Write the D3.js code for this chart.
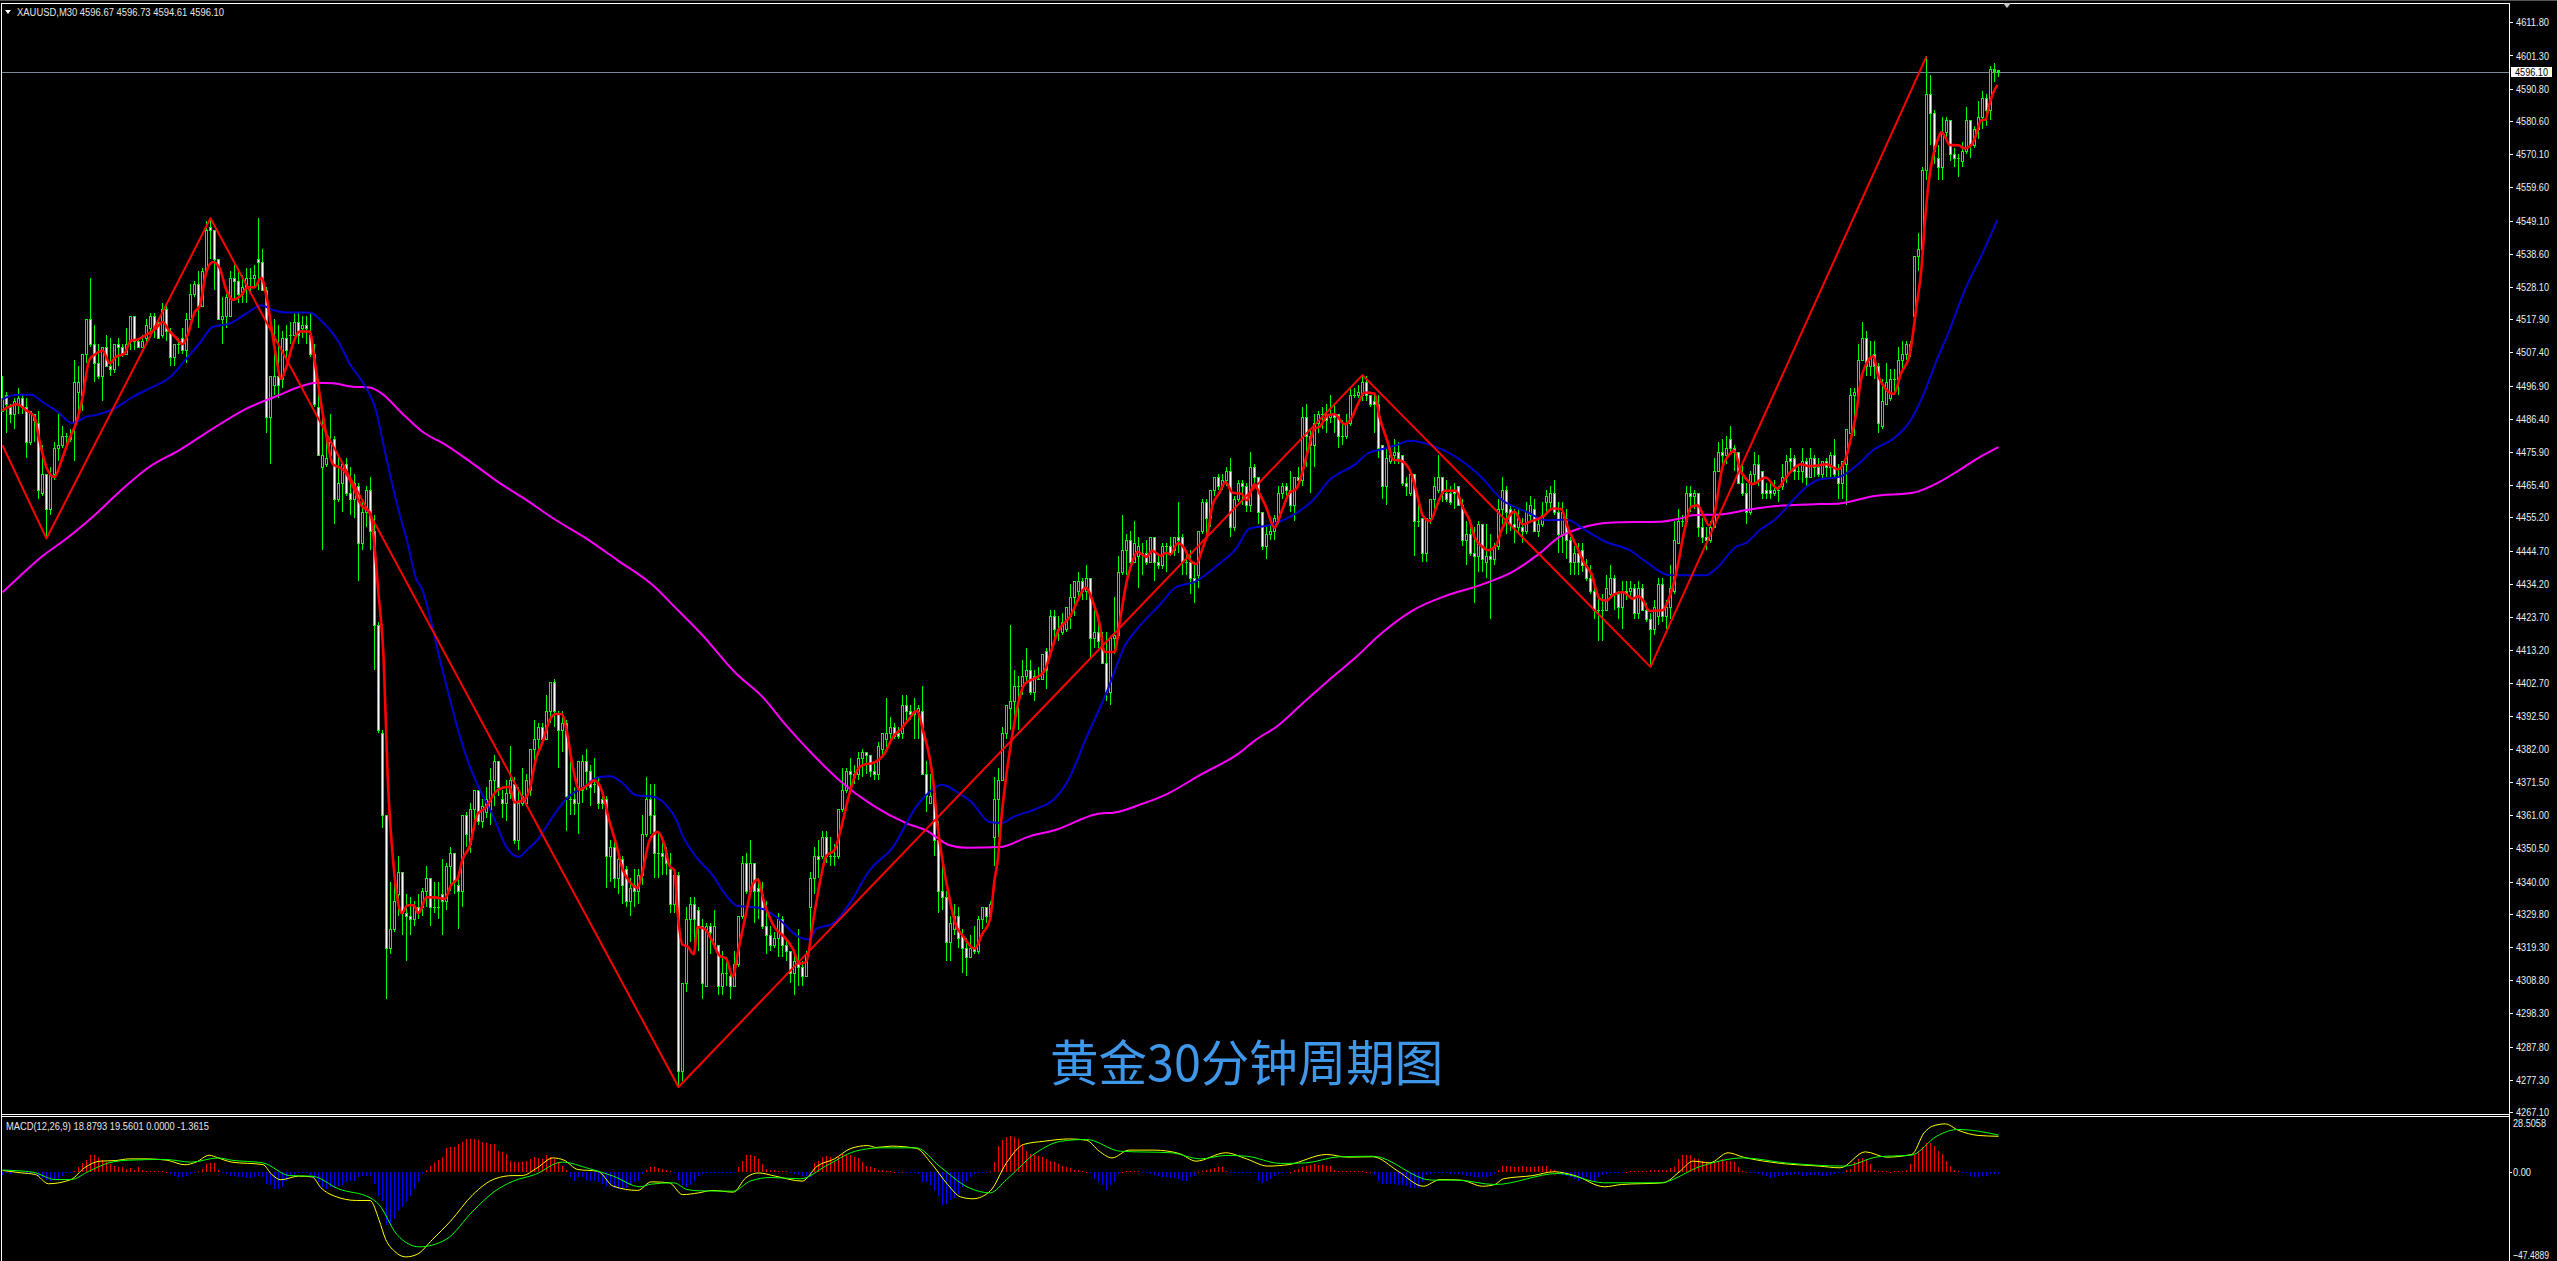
<!DOCTYPE html>
<html>
<head>
<meta charset="utf-8">
<title>XAUUSD M30</title>
<script src="https://cdn.jsdelivr.net/npm/d3@7"></script>
<style>
html, body { margin: 0; padding: 0; background: #000; overflow: hidden; }
svg { display: block; }
text { font-family: "Liberation Sans", sans-serif; }
</style>
</head>
<body>
<div id="chart"></div>
<script>
// velas de 30 minutos, barra 0 a barra 499
const opens = [
4489,4494,4490,4488,4491,4493,4490,4479,4488,4485,
4463,4469,4458,4469,4477,4478,4481,4481,4485,4495,
4494,4507,4518,4510,4504,4500,4509,4503,4502,4510,
4509,4507,4511,4519,4511,4509,4512,4515,4519,4517,
4513,4521,4514,4506,4510,4512,4508,4518,4526,4529,
4522,4533,4547,4546,4537,4518,4519,4519,4531,4530,
4526,4528,4531,4531,4537,4536,4527,4487,4497,4500,
4499,4512,4513,4513,4517,4515,4516,4513,4507,4490,
4471,4472,4475,4480,4461,4466,4472,4463,4461,4465,
4447,4457,4464,4451,4421,4387,4361,4319,4325,4336,
4343,4330,4329,4328,4332,4332,4337,4341,4332,4332,
4336,4334,4345,4349,4339,4337,4361,4352,4363,4369,
4359,4362,4363,4372,4378,4366,4365,4368,4371,4353,
4365,4365,4369,4382,4385,4389,4385,4394,4403,4393,
4388,4390,4366,4366,4365,4369,4378,4375,4371,4371,
4366,4366,4348,4351,4341,4347,4344,4334,4339,4337,
4342,4355,4366,4361,4349,4349,4349,4344,4333,4342,
4280,4308,4328,4333,4331,4326,4307,4326,4320,4320,
4307,4311,4310,4307,4314,4329,4346,4337,4346,4338,
4336,4326,4323,4320,4322,4328,4320,4318,4311,4315,
4313,4310,4332,4341,4348,4348,4354,4348,4348,4348,
4363,4369,4375,4374,4374,4379,4381,4380,4375,4374,
4382,4385,4387,4389,4387,4387,4396,4394,4393,4394,
4394,4374,4365,4368,4353,4337,4335,4321,4325,4329,
4323,4319,4316,4319,4318,4328,4332,4329,4354,4366,
4372,4387,4395,4397,4402,4402,4405,4407,4400,4404,
4404,4413,4413,4424,4420,4419,4420,4424,4430,4432,
4435,4432,4436,4417,4419,4415,4409,4400,4417,4418,
4438,4445,4448,4441,4443,4444,4444,4441,4449,4441,
4440,4446,4446,4445,4449,4449,4441,4441,4436,4437,
4451,4460,4455,4464,4468,4465,4467,4470,4452,4461,
4466,4465,4459,4471,4468,4457,4446,4450,4451,4454,
4463,4465,4464,4459,4468,4467,4487,4481,4478,4485,
4488,4488,4487,4488,4488,4481,4481,4485,4494,4494,
4494,4498,4494,4492,4491,4478,4465,4473,4475,4476,
4475,4466,4463,4469,4454,4455,4444,4455,4461,4464,
4468,4463,4463,4464,4465,4459,4448,4450,4444,4443,
4453,4441,4443,4442,4446,4458,4464,4458,4453,4452,
4452,4451,4456,4458,4451,4453,4460,4460,4463,4457,
4450,4455,4448,4441,4444,4445,4440,4436,4432,4426,
4426,4426,4431,4436,4431,4427,4432,4432,4433,4425,
4433,4426,4423,4420,4424,4434,4424,4427,4432,4447,
4454,4454,4463,4462,4463,4452,4449,4448,4452,4470,
4476,4475,4480,4477,4476,4466,4463,4457,4469,4472,
4470,4464,4464,4463,4464,4465,4468,4474,4474,4470,
4470,4473,4468,4474,4471,4469,4473,4471,4475,4468,
4466,4472,4482,4494,4494,4505,4512,4503,4507,4503,
4484,4491,4493,4499,4499,4505,4507,4510,4519,4538,
4540,4565,4589,4583,4569,4566,4577,4581,4570,4569,
4568,4571,4581,4573,4578,4582,4588,4584,4597,4596.67];

const highs = [
4500,4495,4491,4493,4496,4494,4493,4489,4488,4489,
4478,4469,4471,4479,4488,4484,4482,4483,4505,4503,
4507,4518,4531,4516,4510,4509,4513,4512,4510,4512,
4510,4515,4519,4519,4512,4513,4518,4520,4520,4518,
4523,4523,4515,4510,4512,4515,4520,4529,4530,4533,
4534,4549,4550,4546,4537,4525,4526,4533,4535,4534,
4532,4534,4534,4535,4550,4540,4528,4500,4518,4516,
4514,4516,4517,4520,4520,4519,4519,4520,4510,4499,
4489,4482,4488,4481,4475,4472,4474,4471,4469,4466,
4460,4465,4468,4456,4422,4388,4361,4340,4343,4348,
4343,4336,4335,4334,4336,4338,4345,4341,4340,4340,
4347,4346,4351,4349,4343,4361,4362,4365,4369,4369,
4366,4370,4376,4380,4378,4369,4372,4383,4373,4370,
4376,4374,4382,4391,4390,4390,4399,4403,4404,4394,
4394,4391,4378,4370,4378,4380,4382,4377,4379,4373,
4369,4367,4353,4354,4349,4348,4345,4341,4344,4344,
4361,4373,4371,4371,4356,4353,4351,4349,4343,4343,
4308,4332,4335,4335,4332,4328,4327,4327,4331,4320,
4318,4316,4312,4318,4329,4348,4349,4353,4346,4341,
4340,4334,4326,4324,4330,4329,4322,4318,4318,4325,
4315,4318,4343,4351,4353,4356,4356,4354,4352,4363,
4376,4376,4379,4377,4381,4382,4381,4380,4378,4384,
4387,4398,4392,4390,4389,4399,4399,4396,4398,4396,
4402,4378,4374,4370,4359,4347,4337,4329,4333,4332,
4325,4322,4323,4326,4329,4332,4332,4334,4373,4376,
4389,4396,4421,4407,4405,4410,4414,4410,4407,4408,
4412,4414,4426,4426,4424,4425,4427,4434,4435,4438,
4436,4440,4436,4426,4422,4419,4419,4417,4430,4443,
4456,4450,4451,4454,4449,4447,4448,4449,4449,4444,
4447,4447,4449,4449,4460,4450,4444,4445,4441,4451,
4461,4461,4464,4468,4469,4469,4471,4474,4462,4467,
4467,4466,4476,4472,4468,4457,4452,4453,4456,4465,
4466,4466,4470,4468,4471,4490,4491,4483,4488,4489,
4490,4491,4494,4491,4488,4486,4488,4496,4496,4497,
4500,4500,4494,4494,4494,4478,4477,4477,4480,4479,
4475,4468,4470,4469,4460,4455,4455,4461,4468,4475,
4468,4467,4465,4466,4465,4461,4454,4453,4452,4454,
4453,4453,4450,4447,4461,4468,4465,4459,4458,4458,
4455,4460,4462,4461,4455,4460,4464,4465,4467,4460,
4460,4458,4449,4446,4447,4447,4442,4440,4435,4430,
4431,4437,4440,4437,4432,4435,4435,4435,4434,4435,
4434,4428,4425,4429,4436,4436,4429,4440,4454,4458,
4456,4465,4465,4464,4463,4455,4452,4454,4474,4479,
4480,4481,4484,4478,4476,4472,4466,4470,4476,4475,
4470,4466,4466,4467,4465,4472,4475,4477,4475,4472,
4477,4474,4477,4475,4474,4473,4474,4476,4480,4472,
4473,4483,4496,4496,4510,4517,4514,4511,4511,4504,
4499,4504,4502,4502,4509,4511,4511,4511,4538,4545,
4566,4601,4595,4584,4573,4582,4582,4581,4572,4570,
4574,4585,4581,4579,4587,4590,4589,4598,4599,4596.73];

const lows = [
4489,4482,4485,4483,4488,4488,4474,4478,4479,4461,
4462,4449,4456,4467,4473,4477,4478,4479,4473,4488,
4489,4504,4509,4498,4499,4492,4503,4500,4501,4503,
4506,4507,4508,4508,4509,4509,4510,4512,4512,4512,
4512,4511,4503,4503,4507,4507,4504,4518,4525,4515,
4522,4533,4537,4527,4518,4510,4515,4519,4524,4523,
4523,4523,4526,4528,4527,4527,4482,4472,4494,4493,
4496,4505,4510,4513,4510,4512,4510,4506,4490,4475,
4445,4471,4475,4453,4460,4457,4462,4456,4455,4435,
4445,4452,4445,4407,4387,4357,4303,4317,4324,4329,
4323,4315,4323,4326,4328,4329,4332,4326,4330,4328,
4323,4331,4337,4336,4325,4332,4351,4349,4358,4358,
4357,4360,4358,4364,4367,4360,4359,4366,4352,4350,
4364,4364,4367,4378,4380,4384,4385,4390,4389,4376,
4381,4356,4361,4361,4355,4365,4369,4364,4368,4363,
4363,4338,4340,4338,4336,4333,4332,4329,4332,4333,
4339,4354,4355,4341,4341,4342,4342,4330,4330,4275,
4277,4305,4321,4317,4318,4303,4307,4317,4319,4304,
4304,4307,4303,4307,4313,4328,4336,4336,4327,4328,
4325,4317,4318,4319,4316,4316,4315,4308,4304,4307,
4307,4310,4324,4336,4341,4347,4346,4345,4345,4347,
4362,4368,4368,4371,4372,4373,4374,4373,4372,4372,
4379,4382,4384,4385,4385,4385,4390,4391,4385,4385,
4374,4362,4365,4348,4330,4331,4315,4315,4323,4319,
4311,4310,4316,4317,4317,4325,4327,4328,4345,4354,
4372,4385,4388,4391,4388,4399,4403,4399,4397,4404,
4404,4401,4412,4416,4416,4418,4419,4420,4424,4429,
4429,4429,4411,4414,4414,4409,4397,4396,4412,4417,
4437,4437,4440,4441,4433,4437,4440,4441,4435,4439,
4439,4438,4443,4443,4444,4437,4437,4431,4428,4433,
4450,4449,4452,4462,4464,4464,4465,4449,4451,4460,
4459,4457,4457,4465,4453,4445,4442,4448,4448,4453,
4461,4460,4457,4454,4465,4465,4471,4463,4471,4482,
4483,4482,4485,4482,4477,4478,4480,4484,4493,4493,
4492,4492,4490,4482,4474,4461,4459,4472,4472,4472,
4465,4462,4462,4443,4452,4441,4441,4453,4458,4463,
4460,4460,4459,4458,4459,4446,4440,4443,4428,4438,
4438,4436,4423,4440,4445,4453,4450,4451,4447,4450,
4447,4450,4454,4451,4449,4452,4456,4458,4456,4444,
4444,4442,4437,4437,4437,4438,4435,4431,4423,4416,
4416,4426,4430,4426,4423,4420,4429,4430,4423,4423,
4426,4422,4408,4418,4421,4422,4420,4423,4431,4447,
4452,4453,4457,4458,4449,4447,4445,4447,4452,4470,
4472,4472,4476,4470,4466,4462,4453,4456,4466,4465,
4461,4461,4461,4462,4460,4464,4466,4470,4467,4467,
4466,4465,4468,4468,4468,4467,4468,4468,4468,4461,
4461,4459,4482,4481,4494,4505,4500,4500,4499,4482,
4483,4491,4492,4494,4494,4502,4505,4506,4515,4533,
4537,4562,4573,4567,4562,4562,4574,4568,4566,4563,
4566,4570,4569,4572,4575,4578,4579,4581,4593,4594.61];

const closes = [
4493,4491,4488,4492,4493,4490,4479,4489,4486,4464,
4469,4458,4469,4477,4478,4481,4481,4480,4498,4498,
4507,4518,4510,4504,4500,4509,4503,4502,4510,4509,
4507,4510,4519,4511,4509,4511,4516,4519,4515,4512,
4521,4514,4506,4510,4510,4508,4518,4526,4529,4522,
4533,4546,4546,4537,4518,4519,4525,4531,4530,4526,
4528,4531,4531,4532,4536,4527,4487,4500,4500,4497,
4512,4508,4513,4517,4513,4516,4515,4507,4491,4475,
4475,4474,4479,4461,4466,4472,4463,4461,4466,4447,
4457,4464,4451,4421,4388,4361,4319,4325,4334,4343,
4330,4329,4328,4332,4330,4337,4341,4332,4332,4332,
4334,4345,4349,4340,4337,4361,4355,4363,4369,4359,
4364,4366,4372,4378,4370,4365,4368,4372,4353,4365,
4367,4372,4382,4385,4389,4385,4394,4403,4394,4388,
4390,4367,4366,4365,4378,4378,4375,4370,4371,4365,
4365,4348,4351,4341,4347,4339,4334,4338,4337,4342,
4355,4366,4361,4349,4349,4348,4346,4333,4342,4280,
4308,4328,4333,4328,4326,4308,4326,4324,4326,4307,
4311,4311,4307,4314,4329,4346,4337,4346,4337,4337,
4326,4323,4320,4322,4328,4320,4318,4311,4315,4313,
4310,4317,4341,4348,4347,4354,4348,4348,4348,4363,
4369,4375,4374,4373,4379,4381,4380,4375,4374,4383,
4387,4387,4389,4386,4386,4396,4394,4393,4394,4395,
4374,4367,4367,4353,4337,4335,4321,4327,4329,4322,
4319,4316,4319,4318,4328,4332,4329,4333,4366,4372,
4387,4396,4397,4402,4402,4405,4407,4400,4405,4404,
4412,4407,4424,4420,4420,4422,4427,4430,4435,4435,
4432,4436,4417,4419,4416,4409,4400,4417,4418,4438,
4445,4448,4441,4447,4446,4444,4441,4449,4441,4440,
4446,4446,4444,4449,4448,4441,4441,4436,4435,4451,
4460,4455,4464,4468,4465,4467,4470,4452,4461,4466,
4465,4459,4471,4468,4457,4446,4450,4451,4455,4463,
4465,4464,4459,4468,4467,4487,4481,4478,4485,4488,
4488,4486,4488,4487,4481,4481,4485,4494,4494,4495,
4498,4494,4491,4491,4477,4465,4474,4475,4476,4474,
4466,4465,4469,4454,4454,4444,4455,4461,4465,4468,
4463,4461,4460,4463,4459,4448,4450,4444,4443,4453,
4442,4443,4442,4446,4458,4464,4457,4453,4452,4455,
4451,4457,4459,4451,4453,4456,4462,4463,4457,4450,
4457,4448,4441,4444,4441,4440,4436,4432,4426,4426,
4426,4433,4436,4431,4427,4432,4431,4433,4425,4433,
4426,4423,4420,4427,4434,4424,4427,4433,4448,4454,
4454,4463,4462,4463,4452,4449,4448,4452,4470,4476,
4475,4477,4477,4476,4466,4463,4457,4469,4472,4467,
4463,4463,4463,4464,4464,4468,4473,4473,4470,4470,
4473,4468,4474,4471,4469,4473,4471,4475,4469,4466,
4473,4483,4494,4495,4505,4512,4503,4506,4503,4485,
4492,4498,4499,4499,4505,4507,4510,4508,4538,4540,
4565,4589,4583,4571,4566,4577,4581,4570,4569,4569,
4571,4581,4573,4578,4582,4588,4584,4597,4596.5,4596.1];

// media rapida (roja): barra y precio
const fastBars = [0,3.5,6,8,9,11,13,14.7,16.7,18.4,20,21.7,23.4,25,26.8,28.4,30.5,32,33.8,36,38.4,40,41.8,43.4,45,46.3,48,49.3,51,52.6,54.3,56,57.6,59.7,61.3,63,64.7,66,68,69.7,71,72.6,74.3,76.8,78,79.3,81,82.6,84.3,86,87.6,89.7,92,93,94,95.3,96.3,97.3,98,98.8,99.8,101.3,102.8,104,106,108,110.5,112.2,113.8,115,116.75,118.8,120.5,123.8,126.75,128,130.5,131.75,133.4,135,136.75,138.4,139.8,141,142.6,144.25,146.75,148,149.75,151.75,153.4,155,156.75,158.75,160,161.75,163.8,165.5,166.75,168,168.8,170,171.25,172.8,173.8,175.5,177.5,179.25,180.9,182.6,183.75,185.9,187.5,188.8,190.5,193,195.5,197.6,199.25,200.9,202.6,204.6,205.9,208,209.75,211.3,213.9,215.5,217.6,220.5,222.6,224.75,226.4,228.6,230.1,231.75,232.75,233.8,235,236.75,238.4,240,243,245,246.9,248,248.8,249.75,251,252.25,253.9,255.6,258.4,260.5,262.2,263.8,267,269,270.75,272.6,274.25,275.5,278,279.25,280.9,282.6,283.75,285.9,287.5,289.6,290.9,292,293.8,295.5,296.75,298.4,300,301.25,302.5,304.25,305.75,307.5,309.75,311.1,313,314.25,315.9,318,319.75,321.75,323.5,324.75,326.4,328,329.25,331.3,333,335.5,337.2,338.9,340.5,343,344.25,346.3,347.6,349.75,352.2,354,355,356.9,358.8,360.5,363.4,365,366.75,368,370,371.4,373.4,374.75,376,378,380.1,382.2,385.1,387.6,389.7,391.4,393.4,395.5,397.2,399.25,400.9,402.6,405,407.6,408.9,410.1,411.75,415,416.75,418.4,420.5,422.1,423.75,425.4,426.6,427.9,430,431.6,432.9,434.5,436.2,437.4,440.75,443.75,445.4,447,449.6,451.75,454.25,456.1,458.8,460.5,462,463.4,464.6,466.25,467.75,468.75,470,472.8,474.6,476.75,478.6,479.7,480.5,481.6,482.6,483.9,484.7,485.5,486.75,489,490.5,491.9,493.25,494.6,495.75,496.75,498,498.75];
const fastVals = [4489,4491,4489,4487,4481,4471,4468,4473,4480,4485,4493,4505,4507,4508,4504,4506,4507,4511,4511.5,4513,4515,4517,4514,4512,4510,4513,4520,4522,4533,4536,4534,4527,4524,4525.5,4528,4528,4531,4525,4509,4499,4503,4510,4514,4514,4505,4494,4481,4472,4471,4469,4465,4459,4456.5,4446,4431,4410,4373,4352,4342,4334,4330,4332.5,4332.5,4330,4335,4335,4334.5,4339,4341,4347,4351,4361.5,4363,4369,4370,4365,4366,4369,4379,4384,4391,4393,4393,4388,4376,4369,4371,4372,4369,4359,4352,4344,4340,4338,4343,4353,4355.7,4351.5,4345,4343.5,4330,4320,4319.5,4317,4325.6,4325,4321,4316.6,4315.6,4310,4317,4330,4339,4340.6,4333,4325.6,4322.4,4318.7,4314,4314.5,4327,4341.4,4348,4350,4357.3,4365.7,4375.7,4377,4377.5,4380.5,4385.7,4388.4,4391,4394,4387.9,4379.4,4371,4357.3,4346.7,4334.6,4326,4323,4318.8,4323.5,4328,4340.4,4346.7,4360.4,4374,4384.7,4396.3,4402.6,4404.5,4406.6,4413,4419,4424,4429.5,4433,4428.5,4421.6,4412.6,4412.6,4421.6,4434,4441.6,4444.3,4442.7,4444.6,4443,4444,4443.5,4447,4445.3,4442,4440.4,4445.3,4450,4459,4463,4466.4,4463,4462.7,4460.6,4465.7,4462.7,4458.5,4452,4457,4463,4464.3,4468.5,4476.5,4483.3,4483.8,4487.5,4487.8,4484.7,4486.5,4491.2,4494.7,4494.4,4487,4479,4473.5,4473,4469,4460.6,4455.9,4454,4459.6,4463.6,4463.6,4458.5,4454.3,4449,4445.9,4444.8,4446.4,4451.1,4454.3,4457,4453,4454,4455.4,4458,4457.8,4451.7,4446.4,4440.6,4437.4,4429.5,4428.8,4430.6,4431.6,4429.5,4430.2,4429,4425.6,4425.8,4430,4437.4,4451.1,4458.5,4459,4455.4,4452.7,4455.9,4471.2,4474.9,4476.3,4470,4467,4465.7,4467.8,4464.3,4467,4469.6,4472,4471.4,4471.7,4472,4470.4,4472.8,4479.6,4488,4498.6,4504.4,4506.2,4500.7,4497.3,4494.2,4500.7,4506.5,4522.9,4533.4,4547,4561.9,4569.3,4575,4577,4576,4573,4572.9,4571.9,4572.6,4575.6,4580.7,4581,4586,4590.4,4592];

// media azul
const blueBars = [0,3.4,7.2,10,13.8,17.4,21,23.8,27.6,32.6,36.75,42,46,49.25,52.6,56.75,61,64.7,67.6,71,76.75,80,84.25,86.75,90.5,93.4,95,97.2,99.25,101.3,103.4,104.8,106.9,109,111.5,114.4,116.9,119.4,122.75,126,129,131,134,137.75,141.5,145.25,149,152,154.7,158.4,162.6,166,168.5,170,173.4,177.6,180.9,183.75,189,194,198.4,201.75,203.4,207.6,211.75,216.75,222.6,228.4,231.75,234.8,239.25,242.2,246.75,249.75,252.6,258.4,263,266.4,270.75,275.9,280.9,283.4,290,292.9,298.4,304.25,308.4,311.75,316.75,322.6,327.6,331.75,338.4,341.25,345,348.4,351.75,357.6,363.4,369.25,375,380.9,385.9,390.9,395.9,400.9,406.75,410.9,416.75,425.9,428.4,433.4,435.9,439.25,443.4,447.6,450.9,454.25,459.25,464.25,467.6,473,476.75,480,483.9,485.9,490.9,495,498.75];
const blueVals = [4492.6,4494,4494,4491.7,4488.6,4485,4487,4487.7,4489.4,4493.3,4496,4499.7,4505.5,4510.2,4515.5,4516.5,4519.7,4522.3,4520.8,4520,4520,4517,4510.2,4503.9,4497,4489,4479.6,4467,4456.4,4446.9,4435.8,4432.7,4423.7,4412,4399.5,4385.7,4376.2,4368.9,4360.4,4350.9,4347.8,4349.9,4353.6,4360.9,4366.8,4369.9,4373,4373.3,4371.5,4367.3,4366.8,4364.1,4359.4,4354.6,4347.8,4341.9,4335.6,4332.3,4331.7,4328.3,4323,4321.7,4325,4326.7,4333,4343.5,4350.9,4363.6,4368.3,4370.6,4367.8,4365.2,4358.8,4358.5,4360.4,4363,4366.2,4372,4384.9,4399.4,4415.3,4419.5,4428.5,4432.7,4435,4440.6,4445.3,4451.7,4452.7,4455.9,4460.6,4467,4472.2,4475.4,4476.8,4478,4479.4,4477.8,4474.3,4468.5,4460.6,4457,4454.3,4454.5,4451,4447.4,4444.8,4441.1,4436.9,4436.9,4439,4445.9,4447.1,4451.1,4454.8,4460.6,4464.8,4467.2,4468,4472.4,4476.4,4480.4,4485.4,4493.3,4506,4511.8,4528,4538.7,4549.4];

// media magenta
const slowBars = [0,3.25,9.25,16,22.6,29.25,36.75,44.25,52.6,61,69.25,74.25,78.4,82.6,87.6,91.75,95,100,105,111,117.6,124.25,130,138,146,153.8,162.6,168.4,175,183.4,190,195.9,201.75,209.25,217.6,225.9,230.9,236.75,241,249.25,256.75,263.4,273.4,278.8,285,291,299.25,309.25,313.4,318.4,325,332.5,338.4,344.25,352.6,360.9,369.25,377.6,384.25,389.25,394.25,402.6,414.25,419.25,422.6,429.25,435.9,443.4,454.25,459.25,467.6,477.6,484.25,489,494,499];
const slowVals = [4431.5,4435.3,4442.2,4448.5,4455.4,4463.3,4471.2,4476.5,4483.3,4489.6,4493.9,4496.5,4497.8,4497.6,4496.5,4496.3,4494.2,4488,4482.3,4478,4472.2,4466.1,4461.5,4454.6,4448.5,4441.6,4433.7,4426.4,4417.9,4405.8,4398.4,4389.4,4381.3,4372,4364.1,4358.5,4356.2,4351.5,4350.7,4350.9,4354.3,4356.4,4361.3,4362,4364.6,4367.6,4373.6,4380.7,4384.9,4388.9,4396.3,4404.7,4411,4418,4425.8,4430.4,4433.7,4438,4443.8,4449,4451.7,4453.6,4453.8,4454.8,4455.9,4456.1,4457.5,4458.8,4459.4,4459.6,4461.9,4463,4466.4,4470,4474,4477.4];

// zigzag
const zigBars = [0,11,52,169,340,412,481];
const zigVals = [4478,4448.5,4549.8,4275,4500.2,4407.9,4601];

// escala de precios a la derecha
const priceTicks = [4611.8,4601.3,4590.8,4580.6,4570.1,4559.6,4549.1,4538.6,4528.1,4517.9,4507.4,4496.9,4486.4,4475.9,4465.4,4455.2,4444.7,4434.2,4423.7,4413.2,4402.7,4392.5,4382,4371.5,4361,4350.5,4340,4329.8,4319.3,4308.8,4298.3,4287.8,4277.3,4267.1];
const lastPrice = 4596.1;
const macdTop = 28.5058;
const macdBottom = -47.4889;

// histograma del MACD, una barra por vela
const macdHist = [
-1.4,-.5,-.9,-.4,-.2,-.2,0,0,-.9,-2.1,
-3.2,-3.9,-4.4,-3.9,-3.5,-1.8,-.5,-.2,.5,2.6,
4.9,6.3,9.1,9.1,8.2,6.5,5.6,4.4,3.5,2.8,
2.5,1.8,2.1,1.4,2.5,1.1,.7,.5,.5,.5,
.5,.3,-.9,-2.1,-2.8,-2.8,-2.1,-1.2,-.5,.5,
1.8,4.4,4.9,4.9,.9,-.5,-1.2,-1.8,-2.1,-2.5,
-2.6,-3,-3,-2.8,-1.8,-2.6,-6.1,-7,-8.8,-9.1,
-7.9,-4.4,-1.8,-1,-.4,-.2,-.2,-1.4,-3.5,-5.3,
-7.9,-8.8,-7.9,-8.4,-7.4,-6.7,-5.3,-4.9,-4.4,-2.6,
-1.8,-1.8,-2.1,-6,-12.3,-15,-28,-28.4,-24.6,-20.2,
-18.4,-15.8,-12.3,-8.8,-5.3,-1,.9,3.2,4.9,6.3,
7.9,12.6,13.2,13.2,14.9,16.1,17.2,17.5,17.5,16.7,
16.1,15.4,14.9,14.9,11.4,10.5,9.6,6.1,5.3,5.3,
5.3,6.1,7,7.9,7.4,7,8.8,7.9,7,5.3,
3.5,.9,-2.6,-4.4,-2.6,-2.6,-3.9,-4.4,-4.4,-5.3,
-6.1,-7.4,-7,-8.4,-8.8,-9.1,-8.4,-7,-5,-4.4,
-1,.9,2.6,2.6,2.1,1.8,1,.4,-.5,-4,
-7,-7.9,-7,-4.4,
-1.8,-1.1,-.7,-.7,-.7,-.5,-.5,-.7,-.5,-.4,
2.6,6.1,8.8,9.1,8.4,7,4.4,1.8,1.4,1.1,
.7,.5,.4,-.7,-1.1,-1.4,-1.8,-2.1,-2.5,4.9,
6.1,7.9,8.4,7.9,6.1,7.9,9.6,9.1,8.8,7.9,
7.4,5.3,3.5,2.6,2.1,1.4,1.1,.7,.4,.2,
0,.2,0,-.2,-.5,-.9,-5.3,-5.3,-6.7,-9.6,
-12.3,-17.5,-16.7,-14.9,-13.7,-11.4,-7.9,-4.4,-2.6,-.9,
-.5,-.4,-.2,.7,5.3,14,16.7,18.4,18.9,18.4,
17.5,14.9,11.4,9.6,9.1,8.4,7.9,7,6.1,5.3,
4.4,3.5,2.6,2.1,1.4,.9,.5,.2,-.5,-3.5,
-5.3,-7,-9.6,-6.7,-5.3,-.9,.2,.5,.5,.5,
.5,-.4,-.5,-.9,-1.4,-2.1,-2.6,-2.6,-3,-3.2,
-3.5,-4.4,-4.4,-2.6,-2.1,.2,.5,1.4,1.8,2.1,
2.5,2.5,.7,-.4,-.4,-.5,-.5,-.4,-.4,-.5,
-4.4,-5.6,-4.9,-3.5,-1.8,-.9,-.4,0,.2,.9,
1.8,2.6,3.2,3.9,4.4,3.9,3.9,3.5,3.2,1.1,
.5,.5,.5,.7,.7,.5,.4,.2,.2,-1.4,
-4.4,-6.1,-6.1,-6.1,-6.1,-6.7,-6.7,-7.4,-8.4,-8.4,
-8.4,-5.3,-1.4,-.9,-.7,-.7,-.7,-.7,-.9,-.9,
-1.1,-1.4,-1.8,-2.1,-2.5,-2.6,-2.5,-2.5,-1.8,-.9,
.9,3.5,3.5,3.2,2.6,2.6,3.2,2.6,2.6,2.6,
3.2,3.2,3.2,1.8,.9,-.9,-1.4,-2.1,-2.6,-3.5,
-4.4,-3.5,-2.6,-4.4,-5.3,-2.6,-1.4,-.9,-.7,-.5,
-.5,-.4,.2,.4,.4,.5,.5,.7,.9,1.1,
1.4,1.4,1.4,2.1,2.6,7,8.8,9.1,9.1,7.4,
6.7,6.1,5.3,4.4,5.3,6.1,6.7,6.1,6.1,5.3,
2.6,.5,.2,0,-.4,-.9,-1.4,-2.1,-3.2,-2.6,
-2.1,-1.8,-1.4,-1.4,-1.2,-1.4,-1.8,-1.8,-1.4,-1.4,
-1.4,-1.8,-2.1,-1.4,-.9,-.5,-.2,.9,1.8,5.3,
6.7,7.4,6.7,4.4,1.4,.5,.4,.4,.2,.4,
.5,.5,.9,4.4,8.8,11.4,13.2,15.4,15.4,14,
11.4,9.6,6.1,3.5,.9,.4,-.4,-.7,-1.8,-2.6,
-2.6,-2.1,-1.8,-1.1,-.9,-.9];

// lineas del MACD
const macdBars = [0,4.8,8.2,11.5,17.1,20.5,24.4,28.3,31.6,36.1,41.1,45.6,48.4,51.7,53.9,57.3,65.1,67.3,69.6,74,77.4,79.6,83,88.5,91.9,94.1,95.8,98,100.8,103.6,107.5,112,117.6,123.1,127.6,129.8,133.7,137.6,140.4,143.8,148.8,152.7,158.8,162.2,166.7,170,174,177.4,182.7,185.8,189,193.2,199.9,203.7,208,212.1,216.3,218.4,222.2,228.5,232.1,236.3,239.5,242.6,246.9,251,255.3,260.5,266.8,271,274.2,277.4,281.6,287.9,294.2,298.4,305.8,311,316.3,321.6,331,336.3,342.6,348.9,355.2,359.4,364.7,370,373.1,375.2,382.6,387.9,393.1,400.5,404.7,415.2,419.4,422.6,426.8,431.4,435.2,444.7,454.1,459.4,465.7,471,477.3,480.4,482.5,485.7,488.9,494.1,499];
const macdVals = [.9,-.4,-1.2,-6.1,-3.9,2.3,5.8,6.1,7,7,6.3,3.9,5.3,8.9,7.5,5.3,4,-1.2,-4,-2.1,-2.5,-8.2,-12.6,-14.9,-14.9,-24.9,-35.4,-41.6,-44.6,-43.3,-35.4,-25.8,-11.8,-3.5,-1.8,-1.8,2.3,7.5,6.3,1.4,.5,-7.4,-9.6,-5.1,-5.6,-11.8,-10.9,-9.6,-10.5,-3,-.4,-2.1,-4.7,3.2,7,12.5,14,13,13.7,12.5,4.9,-6.5,-13,-14,-10,4.9,14.6,16.3,17.5,16.8,11,7.5,11.6,11.6,9.8,5.8,10.2,7,3.2,4,9.3,7.9,8.1,.5,-7.4,-3.9,-4.2,-7.4,-6.5,-3.5,-1.8,.2,-1.8,-7.7,-6.5,-5.6,.5,5.8,4.9,10.2,7.9,4.6,3.2,2.3,10.7,7.9,9.3,20.7,24.2,25.4,22.1,19.3,18.88];
const signalBars = [0,7.6,13.2,17.1,21.6,26.6,31.6,40.5,47.2,53.9,57.3,65.1,71.8,77.4,84,91.9,94.1,98.6,104.2,110.9,117.6,123.1,127.6,133.2,139.9,146.6,152.7,159.4,162.2,167.8,171.1,174,182.7,186.9,192.1,199.5,205.8,213.2,219.5,228.5,234.2,241.6,246.9,251,258.4,264.7,271,279.5,292.1,299.5,305.8,311,319.5,325.8,334.2,342.6,357.3,363.6,373.1,388.9,400.5,414.2,424.7,435.2,445.7,460.5,468.9,477.3,483.6,488.9,499];
const signalVals = [1.1,0,-3.9,-3.9,.5,4.9,6.3,6.7,5.3,7.5,6.3,4.9,-1.8,-2.1,-8.8,-13.5,-17,-32.8,-39.3,-35.4,-20.5,-10,-4.8,-1.2,5.3,1.9,-2.1,-7.7,-6.3,-5.6,-9.1,-9.8,-10,-4.7,-2.8,-3.5,3.2,11,12.8,12.8,3.2,-8.2,-10.9,-3.9,10.2,16.3,17.2,11,10.2,7,8.8,8.4,4.6,4.9,8.1,8.4,-4.2,-4.2,-6.5,-.7,-5.6,-5.6,3.2,7.5,4.9,3.2,8.1,9,19,22.5,19.56];

const width = 2557;
const height = 1261;
const axisX = 2510;

const svg = d3.select("#chart").append("svg")
	.attr("width", width)
	.attr("height", height)
	.attr("viewBox", `0 0 ${width} ${height}`);

svg.append("rect").attr("width", width).attr("height", height).attr("fill", "#000");

const xBar = d3.scaleLinear().domain([0, 499]).range([2.5, 1998.5]);
const yPrice = d3.scaleLinear().domain([4611.8, 4267.1]).range([22.3, 1112]);
const yMacd = d3.scaleLinear().domain([macdTop, macdBottom]).range([1118, 1262.4]);

// marco
const frame = svg.append("g").attr("shape-rendering", "crispEdges");
frame.append("rect").attr("x", 0).attr("y", 0).attr("width", width).attr("height", 1).attr("fill", "#555");
function hLine(y, color) {
	frame.append("rect").attr("x", 1).attr("y", y).attr("width", axisX - 1).attr("height", 1).attr("fill", color);
}
hLine(3, "#fff");
hLine(1114, "#fff");
hLine(1116, "#fff");
frame.append("rect").attr("x", 1).attr("y", 3).attr("width", 1).attr("height", height - 3).attr("fill", "#fff");
frame.append("rect").attr("x", axisX - 1).attr("y", 3).attr("width", 1).attr("height", height - 3).attr("fill", "#fff");

// linea del ultimo precio
svg.append("rect").attr("shape-rendering", "crispEdges")
	.attr("x", 2).attr("y", Math.round(yPrice(lastPrice))).attr("width", axisX - 3).attr("height", 1)
	.attr("fill", "#778899");

// velas
const candles = svg.append("g").attr("shape-rendering", "crispEdges");
const bars = d3.range(opens.length);
candles.selectAll("rect.wick").data(bars).enter().append("rect")
	.attr("class", "wick")
	.attr("x", i => Math.floor(xBar(i)))
	.attr("y", i => Math.round(yPrice(highs[i])))
	.attr("width", 1)
	.attr("height", i => Math.max(1, Math.round(yPrice(lows[i])) - Math.round(yPrice(highs[i]))))
	.attr("fill", "#00ff00");
candles.selectAll("rect.body").data(bars).enter().append("rect")
	.attr("class", "body")
	.attr("x", i => Math.floor(xBar(i)) - 1)
	.attr("y", i => Math.round(yPrice(Math.max(opens[i], closes[i]))))
	.attr("width", 3)
	.attr("height", i => Math.max(1, Math.round(yPrice(Math.min(opens[i], closes[i]))) - Math.round(yPrice(Math.max(opens[i], closes[i]))) + 1))
	.attr("fill", "#00ff00");
candles.selectAll("rect.inner").data(bars.filter(i => Math.abs(yPrice(opens[i]) - yPrice(closes[i])) >= 3)).enter().append("rect")
	.attr("class", "inner")
	.attr("x", i => Math.floor(xBar(i)))
	.attr("y", i => Math.round(yPrice(Math.max(opens[i], closes[i]))) + 1)
	.attr("width", 1)
	.attr("height", i => Math.round(yPrice(Math.min(opens[i], closes[i]))) - Math.round(yPrice(Math.max(opens[i], closes[i]))) - 1)
	.attr("fill", i => closes[i] < opens[i] ? "#fff" : "#000");

function drawLine(barsArr, valsArr, yScale, color, w, curve) {
	const line = d3.line().x(d => xBar(d[0])).y(d => yScale(d[1])).curve(curve);
	svg.append("path")
		.attr("d", line(d3.zip(barsArr, valsArr)))
		.attr("fill", "none")
		.attr("stroke", color)
		.attr("stroke-width", w)
		.attr("stroke-linejoin", "round");
}

drawLine(slowBars, slowVals, yPrice, "#ff00ff", 2, d3.curveMonotoneX);
drawLine(blueBars, blueVals, yPrice, "#0000cd", 2, d3.curveMonotoneX);
drawLine(zigBars, zigVals, yPrice, "#ff0000", 2, d3.curveLinear);
drawLine(fastBars, fastVals, yPrice, "#ff0000", 2.6, d3.curveMonotoneX);

// histograma y lineas del MACD
const zeroY = Math.round(yMacd(0));
svg.append("g").attr("shape-rendering", "crispEdges")
	.selectAll("rect").data(macdHist).enter().append("rect")
	.attr("x", (d, i) => Math.floor(xBar(i)))
	.attr("y", d => d > 0 ? Math.round(yMacd(d)) : zeroY)
	.attr("width", 1)
	.attr("height", d => Math.max(1, Math.abs(Math.round(yMacd(d)) - zeroY)))
	.attr("fill", d => d > 0 ? "#ff0000" : "#0000ff");
drawLine(macdBars, macdVals, yMacd, "#ffff00", 1, d3.curveMonotoneX);
drawLine(signalBars, signalVals, yMacd, "#00ff00", 1, d3.curveMonotoneX);

// ejes
const priceAxis = svg.append("g")
	.attr("transform", `translate(${axisX},0)`)
	.call(d3.axisRight(yPrice).tickValues(priceTicks).tickSize(3).tickPadding(3).tickFormat(d3.format(".2f")));
priceAxis.select(".domain").remove();
priceAxis.selectAll("line").attr("stroke", "#fff").attr("shape-rendering", "crispEdges");
priceAxis.selectAll("text")
	.attr("fill", "#e6f0f5")
	.style("font-size", "11px")
	.attr("textLength", 33)
	.attr("lengthAdjust", "spacingAndGlyphs");

const lastY = yPrice(lastPrice);
svg.append("rect").attr("shape-rendering", "crispEdges")
	.attr("x", axisX + 1).attr("y", Math.round(lastY) - 5).attr("width", 41).attr("height", 10).attr("fill", "#fff");
svg.append("text")
	.attr("x", axisX + 5).attr("y", lastY + 4)
	.attr("fill", "#000").style("font-size", "11px")
	.attr("textLength", 33).attr("lengthAdjust", "spacingAndGlyphs")
	.text(d3.format(".2f")(lastPrice));

function macdLabel(value, txt, offset, w) {
	svg.append("text")
		.attr("x", axisX + 3).attr("y", yMacd(value) + offset)
		.attr("fill", "#e6f0f5").style("font-size", "11px")
		.attr("textLength", w).attr("lengthAdjust", "spacingAndGlyphs")
		.text(txt);
}
macdLabel(macdTop, d3.format(".4f")(macdTop), 9, 33);
macdLabel(0, "0.00", 4, 18);
macdLabel(macdBottom, d3.format(".4f")(macdBottom), -3, 36);
svg.append("rect").attr("shape-rendering", "crispEdges")
	.attr("x", axisX).attr("y", zeroY).attr("width", 2).attr("height", 1).attr("fill", "#fff");

// rotulos
svg.append("path").attr("d", "M5 10H11L8 14Z").attr("fill", "#fff");
svg.append("path").attr("d", "M2003 3H2011L2007 8Z").attr("fill", "#c8c8c8");
svg.append("text")
	.attr("x", 17).attr("y", 16)
	.attr("fill", "#e6e6e6").style("font-size", "11px")
	.attr("textLength", 207).attr("lengthAdjust", "spacingAndGlyphs")
	.text("XAUUSD,M30  4596.67 4596.73 4594.61 4596.10");
svg.append("text")
	.attr("x", 6).attr("y", 1130)
	.attr("fill", "#e6e6e6").style("font-size", "11px")
	.attr("textLength", 203).attr("lengthAdjust", "spacingAndGlyphs")
	.text("MACD(12,26,9) 18.8793 19.5601 0.0000 -1.3615");
svg.append("text")
	.attr("x", 1050).attr("y", 1081)
	.attr("fill", "#3f97ea")
	.style("font-family", '"Noto Sans CJK SC", sans-serif')
	.style("font-size", "48.5px")
	.text("黄金30分钟周期图");
</script>
</body>
</html>
